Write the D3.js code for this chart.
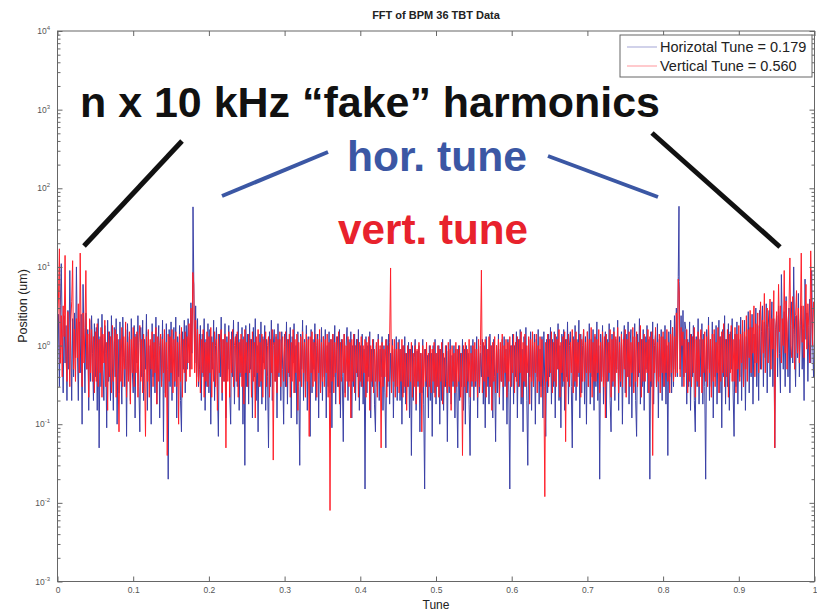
<!DOCTYPE html>
<html>
<head>
<meta charset="utf-8">
<script src="https://cdn.jsdelivr.net/npm/d3@7"></script>
<style>
  body { margin: 0; background: #fff; }
  text { font-family: "Liberation Sans", Arial, Helvetica, sans-serif; }
</style>
</head>
<body>
<svg id="chart" width="817" height="612"></svg>
<script>
// FFT bins: 801 bins spanning tune 0 to 1
const binStep = 0.00125;

// Horizontal plane FFT magnitude (um), one value per bin
const horSpectrum = [
  0.8, 2.5, 0.3, 3.2, 11, 1.4, 0.25, 2.4, 0.6, 1.8, 0.2, 2.8, 0.5, 9, 1.2, 0.2, 2.2, 0.4, 2.6, 0.7,
  10, 1.0, 0.2, 2.0, 0.45, 2.5, 0.1, 6, 1.2, 0.25, 2.6, 0.5, 1.6, 0.15, 2.1, 0.35, 2.4, 0.8, 0.2, 1.9,
  0.4, 1.7, 0.15, 2.2, 0.05, 1.3, 0.3, 2.5, 0.5, 0.2, 1.8, 0.8, 0.09, 2.1, 0.35, 1.5, 0.2, 2.4, 0.6, 0.15,
  1.7, 0.4, 2.2, 0.1, 1.2, 0.25, 2.0, 0.5, 0.18, 2.3, 0.7, 0.3, 1.6, 0.07, 1.9, 0.4, 1.3, 0.2, 2.2, 0.5,
  0.25, 1.8, 0.12, 1.4, 0.6, 2.4, 0.3, 0.08, 1.7, 0.4, 2.1, 0.2, 1.2, 0.5, 2.5, 0.15, 1.5, 0.35, 1.0, 0.1,
  1.9, 0.4, 1.4, 0.25, 2.3, 0.18, 0.9, 1.8, 0.12, 1.3, 0.35, 2.1, 0.06, 1.4, 0.25, 1.9, 0.5, 0.02, 1.6, 0.3,
  2.0, 0.2, 1.0, 1.7, 0.3, 2.3, 0.12, 1.3, 0.4, 1.8, 0.2, 0.08, 1.5, 0.5, 2.1, 0.25, 1.8, 0.5, 2.2, 1.3,
  0.5, 3.5, 0.8, 8, 7, 0.6, 3.2, 0.4, 2.2, 0.3, 0.5, 1.8, 0.2, 1.4, 0.4, 2.2, 0.15, 1.2, 0.3, 1.9,
  0.25, 1.6, 0.1, 1.3, 0.5, 2.1, 0.2, 1.0, 1.7, 0.3, 0.07, 1.4, 0.4, 2.3, 0.2, 1.2, 0.35, 1.9, 0.12, 1.3,
  0.5, 1.8, 0.25, 0.1, 1.5, 0.4, 2.1, 0.18, 1.0, 1.4, 0.3, 2.0, 0.15, 1.2, 0.4, 1.7, 0.1, 1.3, 0.03, 1.8,
  0.3, 1.4, 0.18, 1.9, 0.5, 1.2, 0.12, 1.7, 0.4, 2.2, 0.2, 1.0, 0.08, 1.4, 0.3, 2.0, 0.18, 1.3, 0.6, 1.8,
  0.15, 1.2, 0.4, 0.05, 1.5, 0.3, 2.1, 0.2, 1.0, 1.6, 0.35, 1.3, 0.12, 1.9, 0.4, 1.2, 0.2, 1.5, 0.5, 0.1,
  1.4, 0.3, 2.0, 0.18, 1.2, 0.4, 1.7, 0.12, 1.3, 0.6, 1.9, 0.25, 1.0, 0.1, 1.5, 0.3, 0.03, 1.4, 0.5, 2.1,
  0.2, 1.2, 0.35, 1.8, 0.15, 1.3, 0.4, 0.07, 1.6, 0.25, 1.2, 0.5, 1.9, 0.2, 1.0, 1.4, 0.12, 1.2, 0.3, 1.7,
  0.2, 1.3, 0.4, 1.6, 0.12, 1.0, 0.3, 1.5, 0.25, 1.2, 0.09, 1.4, 0.4, 1.8, 0.18, 0.9, 1.3, 0.3, 1.6, 0.12,
  1.2, 0.4, 0.06, 1.4, 0.25, 1.0, 1.7, 0.2, 1.2, 0.35, 1.5, 0.12, 1.0, 0.3, 1.4, 0.2, 1.2, 0.4, 1.6, 0.15,
  1.0, 0.3, 1.4, 0.18, 0.9, 0.015, 1.3, 0.25, 1.0, 0.4, 1.5, 0.12, 0.9, 0.3, 1.2, 0.18, 0.08, 1.0, 0.3, 1.4,
  0.2, 0.9, 0.4, 1.3, 0.15, 1.0, 0.25, 0.05, 1.2, 0.3, 1.4, 0.18, 0.8, 0.35, 1.2, 0.12, 0.9, 0.3, 1.3, 0.2,
  0.8, 1.2, 0.2, 0.9, 0.1, 1.0, 0.25, 1.3, 0.18, 0.8, 0.3, 1.1, 0.12, 0.9, 0.04, 1.0, 0.2, 0.7, 1.2, 0.15,
  0.85, 0.3, 1.0, 0.08, 0.8, 0.25, 1.2, 0.18, 0.015, 0.9, 0.3, 0.75, 0.12, 1.0, 0.2, 0.8, 0.07, 1.0, 0.25, 1.2,
  0.18, 0.8, 0.3, 1.0, 0.1, 0.9, 0.2, 1.2, 0.15, 0.7, 0.3, 1.0, 0.06, 0.85, 0.25, 1.2, 0.18, 0.75, 0.3, 1.0,
  0.12, 0.9, 0.25, 0.05, 1.0, 0.2, 0.8, 0.3, 1.2, 0.15, 0.9, 0.1, 1.0, 0.25, 0.8, 0.18, 0.04, 1.0, 0.3, 1.2,
  0.2, 0.9, 0.3, 1.3, 0.12, 1.0, 0.25, 0.8, 0.4, 1.2, 0.18, 1.0, 0.09, 1.3, 0.3, 0.9, 0.18, 1.4, 0.3, 1.0,
  0.12, 1.2, 0.4, 0.06, 1.0, 0.25, 1.4, 0.18, 0.9, 0.35, 1.2, 0.15, 1.3, 0.3, 0.9, 0.1, 1.2, 0.25, 0.015, 1.0,
  0.3, 1.4, 0.18, 1.0, 0.4, 1.5, 0.12, 1.2, 0.3, 1.6, 0.18, 0.9, 0.08, 1.3, 0.3, 1.7, 0.2, 0.03, 1.2, 0.4,
  1.5, 0.15, 1.0, 0.3, 1.4, 0.1, 1.2, 0.4, 1.6, 0.18, 0.9, 0.3, 1.3, 0.12, 1.5, 0.3, 0.07, 1.2, 0.25, 1.4,
  0.4, 1.7, 0.18, 1.2, 0.3, 1.5, 0.12, 1.3, 0.5, 1.9, 0.2, 1.0, 0.09, 1.4, 0.3, 1.6, 0.15, 1.2, 0.4, 2.0,
  0.18, 1.0, 1.5, 0.3, 0.05, 1.3, 0.3, 1.8, 0.2, 1.2, 0.4, 2.1, 0.12, 1.4, 0.25, 1.0, 1.6, 0.18, 1.3, 0.1,
  1.5, 0.3, 1.9, 0.18, 1.2, 0.4, 1.6, 0.15, 1.3, 0.3, 2.0, 0.2, 1.0, 0.02, 1.4, 0.4, 1.8, 0.18, 0.9, 1.5,
  0.12, 1.2, 0.35, 1.9, 0.2, 0.08, 1.4, 0.3, 1.7, 0.2, 1.2, 0.5, 2.1, 0.15, 1.3, 0.3, 1.5, 0.1, 1.0, 1.8,
  0.25, 1.4, 0.4, 2.0, 0.18, 1.0, 1.6, 0.12, 1.3, 0.3, 1.9, 0.2, 0.07, 1.4, 0.4, 2.2, 0.18, 1.2, 0.3, 1.6,
  0.15, 1.3, 0.5, 1.8, 0.25, 1.2, 0.02, 1.5, 0.3, 2.0, 0.18, 1.0, 1.4, 0.3, 1.9, 0.12, 1.2, 0.4, 1.6, 0.2,
  1.3, 0.3, 1.8, 0.18, 1.0, 0.04, 1.5, 0.4, 2.1, 0.25, 1.7, 0.3, 2.4, 0.5, 3.0, 0.4, 7.5, 6.5, 0.5, 2.4,
  0.3, 2.8, 0.4, 2.0, 1.6, 0.18, 1.2, 0.3, 2.0, 0.15, 1.4, 0.4, 1.8, 0.2, 0.08, 1.3, 0.3, 2.2, 0.18, 1.2,
  0.4, 1.9, 0.18, 1.4, 0.3, 0.02, 1.6, 0.5, 2.3, 0.2, 1.2, 0.3, 2.0, 0.12, 1.4, 0.4, 1.8, 0.18, 1.0, 2.1,
  0.25, 1.3, 0.09, 1.6, 0.4, 2.4, 0.18, 1.2, 0.3, 1.9, 0.15, 1.5, 0.5, 2.2, 0.25, 0.07, 1.4, 0.3, 2.0, 0.18,
  1.2, 0.4, 2.3, 0.2, 1.5, 0.3, 2.1, 0.15, 1.3, 0.5, 2.7, 0.25, 1.7, 0.4, 2.5, 0.18, 1.4, 0.6, 3.0, 0.3,
  1.8, 0.2, 2.8, 0.5, 1.5, 3.2, 0.3, 2.0, 0.7, 3.4, 0.25, 1.7, 2.8, 0.4, 1.4, 3.6, 0.3, 2.2, 0.05, 1.6,
  2.4, 0.4, 3.2, 0.8, 0.25, 8, 1.7, 0.5, 2.7, 0.3, 4.2, 1.3, 0.4, 3.0, 0.25, 1.8, 3.6, 0.6, 10, 1.4,
  0.3, 2.4, 0.7, 4.6, 0.4, 2.0, 3.2, 0.5, 1.6, 0.2, 7, 1.2, 2.6, 0.35, 1.8, 3.9, 0.6, 9, 1.3, 0.4,
  1.2
];

// Vertical plane FFT magnitude (um), one value per bin
const verSpectrum = [
  1.6, 4, 17, 0.6, 2.4, 0.4, 3.2, 1.3, 14, 0.7, 0.35, 2.7, 1.1, 0.3, 2.0, 3.6, 12, 0.5, 1.6, 0.35,
  2.2, 0.7, 3.4, 0.45, 15, 1.2, 0.3, 2.6, 0.6, 1.7, 9, 0.5, 1.4, 0.22, 2.2, 0.45, 1.6, 0.35, 1.3, 0.25,
  1.5, 0.35, 1.9, 0.3, 1.2, 0.45, 1.7, 0.22, 1.4, 0.6, 2.1, 0.3, 1.1, 0.15, 1.5, 0.4, 1.3, 0.25, 1.8, 0.35,
  1.1, 1.6, 0.22, 1.4, 0.45, 0.08, 1.2, 0.35, 1.7, 0.3, 1.3, 0.5, 2.0, 0.22, 1.1, 0.35, 1.5, 0.18, 1.2, 0.45,
  1.7, 0.3, 1.3, 0.45, 1.5, 0.22, 1.1, 1.8, 0.35, 1.2, 0.25, 1.4, 0.45, 0.07, 1.3, 0.35, 1.6, 0.22, 1.2, 0.5,
  1.5, 0.3, 1.1, 0.45, 1.7, 0.18, 1.3, 0.35, 1.0, 1.4, 0.3, 1.2, 0.45, 1.6, 0.22, 1.1, 0.04, 1.4, 0.35, 1.3,
  0.45, 1.6, 0.25, 1.2, 0.35, 1.5, 0.3, 1.1, 0.1, 1.4, 0.35, 1.7, 0.22, 1.2, 0.45, 1.5, 0.35, 1.3, 0.6, 1.9,
  0.4, 3.0, 0.5, 8.5, 6, 0.45, 2.1, 0.3, 1.6, 0.35, 1.4, 0.25, 1.2, 0.45, 1.6, 0.22, 1.1, 0.35, 1.5, 0.3,
  1.3, 0.45, 1.7, 0.22, 1.1, 0.35, 1.5, 0.3, 1.2, 0.15, 1.4, 0.45, 1.1, 1.6, 0.25, 1.2, 0.35, 1.4, 0.05, 1.1,
  0.35, 1.5, 0.22, 1.2, 0.45, 1.6, 0.3, 1.0, 1.3, 0.35, 1.5, 0.22, 1.1, 0.45, 1.4, 0.3, 1.2, 0.18, 1.6, 0.45,
  1.1, 0.3, 1.4, 0.45, 1.2, 0.22, 1.5, 0.35, 1.1, 0.12, 1.3, 0.45, 1.6, 0.3, 1.1, 0.35, 1.4, 0.22, 1.2, 0.5,
  1.5, 0.3, 1.0, 1.3, 0.22, 1.2, 0.45, 1.6, 0.035, 1.1, 0.35, 1.4, 0.25, 1.2, 0.45, 1.5, 0.3, 1.1, 1.3, 0.35,
  1.0, 1.5, 0.3, 1.2, 0.45, 1.4, 0.22, 1.1, 0.35, 1.6, 0.25, 1.2, 0.45, 1.4, 0.15, 1.1, 0.35, 1.3, 0.3, 1.5,
  0.45, 1.1, 0.22, 1.4, 0.35, 1.2, 0.07, 1.3, 0.45, 1.5, 0.3, 1.1, 0.35, 1.4, 0.22, 1.2, 0.45, 1.6, 0.25, 1.1,
  0.35, 1.3, 0.3, 1.2, 0.45, 1.4, 0.22, 1.1, 0.008, 1.2, 0.35, 1.4, 0.25, 1.1, 0.45, 1.3, 0.3, 1.5, 0.18, 1.1,
  0.35, 1.2, 0.45, 1.4, 0.22, 1.0, 0.35, 1.3, 0.3, 1.1, 0.12, 1.2, 0.35, 1.4, 0.25, 1.0, 0.45, 1.2, 0.22, 1.1,
  0.35, 1.3, 0.3, 1.0, 0.45, 1.2, 0.22, 1.1, 0.35, 1.3, 0.15, 1.0, 0.35, 1.2, 0.25, 0.9, 0.35, 1.1, 0.22, 1.2,
  0.35, 1.0, 0.05, 1.1, 0.3, 0.9, 0.4, 1.2, 0.22, 1.0, 0.35, 1.1, 0.45, 0.25, 1.0, 0.35, 1.2, 0.22, 0.9, 0.3,
  1.1, 0.25, 0.9, 0.35, 1.2, 0.22, 1.0, 0.3, 0.8, 0.15, 1.0, 0.3, 0.9, 0.35, 1.1, 0.22, 0.8, 0.3, 1.0, 0.18,
  0.9, 0.35, 1.1, 0.25, 0.8, 0.08, 1.0, 0.3, 0.9, 0.35, 1.1, 0.22, 0.8, 0.3, 1.0, 0.25, 0.9, 0.35, 1.1, 0.22,
  0.8, 0.3, 1.0, 0.22, 0.9, 0.35, 1.1, 0.18, 0.8, 0.3, 1.0, 0.35, 0.25, 1.1, 0.3, 0.9, 0.15, 1.0, 0.35, 0.8,
  0.25, 1.1, 0.3, 0.9, 0.35, 1.0, 0.22, 0.8, 0.04, 1.0, 0.3, 1.1, 0.25, 0.9, 0.35, 1.2, 0.22, 0.8, 0.35, 1.0,
  0.3, 1.1, 0.35, 0.9, 0.22, 1.2, 0.3, 1.0, 0.45, 0.25, 1.1, 0.35, 1.2, 0.22, 0.9, 0.4, 1.3, 0.3, 1.0, 0.15,
  1.1, 0.35, 1.3, 0.25, 1.0, 0.45, 1.2, 0.22, 1.1, 0.35, 1.4, 0.3, 1.0, 0.45, 1.2, 0.22, 1.1, 0.35, 1.3, 0.3,
  1.0, 0.45, 1.4, 0.25, 1.1, 0.35, 1.3, 0.3, 1.2, 0.45, 1.5, 0.22, 1.1, 0.35, 1.4, 0.3, 1.0, 0.45, 1.3, 0.18,
  1.2, 0.35, 1.5, 0.3, 1.1, 0.45, 1.4, 0.25, 1.0, 0.35, 1.3, 0.22, 1.2, 0.45, 0.3, 0.012, 1.1, 0.35, 1.4, 0.3,
  1.2, 0.45, 1.5, 0.25, 1.1, 0.35, 1.4, 0.3, 1.2, 0.5, 1.6, 0.22, 1.1, 0.45, 1.3, 0.35, 1.5, 0.06, 1.2, 0.35,
  1.4, 0.3, 1.1, 0.45, 1.6, 0.25, 1.2, 0.35, 1.5, 0.3, 1.1, 0.45, 1.4, 0.22, 1.2, 0.35, 1.6, 0.35, 1.1, 0.45,
  1.5, 0.3, 1.2, 0.45, 1.7, 0.22, 1.1, 0.35, 1.4, 0.35, 1.2, 0.45, 1.6, 0.25, 1.1, 0.35, 1.5, 0.3, 1.3, 0.12,
  1.4, 0.35, 1.1, 0.45, 1.6, 0.22, 1.2, 0.35, 1.5, 0.3, 1.3, 0.45, 1.7, 0.25, 1.1, 0.35, 1.4, 0.3, 1.2, 0.5,
  1.6, 0.22, 1.2, 0.4, 1.5, 0.3, 1.1, 0.45, 1.7, 0.25, 1.3, 0.35, 1.5, 0.3, 1.1, 0.45, 1.8, 0.22, 1.2, 0.35,
  1.4, 0.35, 1.1, 0.45, 1.6, 0.25, 1.3, 0.35, 1.5, 0.04, 1.2, 0.45, 1.7, 0.3, 1.1, 0.35, 1.4, 0.25, 1.3, 0.45,
  1.5, 0.3, 1.2, 0.45, 1.6, 0.35, 1.1, 0.25, 1.4, 0.45, 1.7, 0.35, 1.3, 0.4, 2.6, 0.45, 7, 5, 0.4, 1.7,
  1.0, 1.5, 0.3, 1.2, 0.45, 1.6, 0.25, 1.1, 0.35, 1.4, 0.3, 1.3, 0.45, 1.7, 0.22, 1.2, 0.35, 1.5, 0.3, 1.1,
  1.6, 0.25, 1.2, 0.45, 1.5, 0.35, 1.3, 0.3, 1.8, 0.45, 1.2, 0.22, 1.4, 0.35, 1.6, 0.3, 1.1, 0.45, 1.7, 0.25,
  1.3, 0.35, 1.5, 0.45, 1.9, 0.3, 1.2, 0.4, 1.6, 0.22, 1.4, 0.45, 1.8, 0.35, 1.2, 0.35, 1.7, 0.25, 1.4, 0.5,
  1.8, 0.35, 1.4, 0.6, 2.1, 0.3, 1.5, 0.5, 2.4, 0.35, 1.6, 0.7, 2.8, 0.45, 1.7, 0.8, 3.2, 0.4, 1.9, 0.6,
  2.6, 0.45, 1.7, 3.6, 0.5, 2.1, 0.8, 4.6, 0.45, 1.8, 3.0, 0.6, 1.6, 3.9, 0.5, 2.2, 0.9, 5, 0.05, 1.7,
  2.7, 0.7, 6, 1.5, 3.2, 0.6, 2.2, 1.0, 9, 0.8, 3.7, 0.5, 2.0, 2.8, 13, 1.0, 0.7, 4.2, 1.6, 0.5,
  2.4, 5, 0.8, 3.0, 0.6, 1.8, 15, 1.1, 3.2, 0.7, 2.2, 6, 0.9, 3.4, 1.7, 0.6, 16, 2.6, 1.0, 3.6,
  2.0
];

// Betatron tune lines [tune, amplitude um] and their mirror images
const horTuneLines = [[0.179, 58], [0.821, 59]];
const verTuneLines = [[0.440, 9.7], [0.560, 9.1]];

const xTicks = [0, 0.1, 0.2, 0.3, 0.4, 0.5, 0.6, 0.7, 0.8, 0.9, 1];
const xTickLabels = ["0", "0.1", "0.2", "0.3", "0.4", "0.5", "0.6", "0.7", "0.8", "0.9", "1"];
const yDecades = [1e-3, 1e-2, 1e-1, 1e0, 1e1, 1e2, 1e3, 1e4];
const yExponents = ["-3", "-2", "-1", "0", "1", "2", "3", "4"];
const legendLabels = ["Horizotal Tune = 0.179", "Vertical Tune = 0.560"];

const colors = { hor: "#3a40a6", ver: "#ff1f2a" };

const svg = d3.select("#chart");
const plotLeft = 57.5, plotRight = 814.5, plotTop = 31, plotBottom = 581.5;

const x = d3.scaleLinear().domain([0, 1]).range([plotLeft, plotRight]);
const y = d3.scaleLog().domain([1e-3, 1e4]).range([plotBottom, plotTop]);

// Spectrum bins plus the tune lines, ordered by tune
function buildSeries(values, lines) {
  const pts = values
    .map((v, i) => [i * binStep, v])
    .filter(([t]) => t <= 1 && !lines.some(([lt]) => Math.abs(lt - t) < 1e-9));
  return pts.concat(lines).sort((a, b) => a[0] - b[0]);
}

svg.append("rect").attr("width", 817).attr("height", 612).attr("fill", "#fff");

svg.append("defs").append("clipPath").attr("id", "plotClip")
  .append("rect").attr("x", plotLeft).attr("y", plotTop)
  .attr("width", plotRight - plotLeft).attr("height", plotBottom - plotTop);

const line = d3.line().x(d => x(d[0])).y(d => y(d[1]));
const plot = svg.append("g").attr("clip-path", "url(#plotClip)");

plot.append("path").datum(buildSeries(horSpectrum, horTuneLines))
  .attr("d", line).attr("fill", "none")
  .attr("stroke", colors.hor).attr("stroke-width", 1);
plot.append("path").datum(buildSeries(verSpectrum, verTuneLines))
  .attr("d", line).attr("fill", "none")
  .attr("stroke", colors.ver).attr("stroke-width", 1);

// Axes (ticks point inward, box drawn separately)
const axisColor = "#666";
const minorTicks = [];
yDecades.slice(0, -1).forEach(d => { for (let k = 2; k <= 9; k++) minorTicks.push(d * k); });

function styleAxis(g) {
  g.select(".domain").remove();
  g.selectAll(".tick line").attr("stroke", axisColor);
  g.selectAll(".tick text").attr("fill", "#555").attr("font-size", 8.5)
    .attr("font-family", "'Liberation Sans', Arial, sans-serif");
}

svg.append("g").attr("transform", `translate(0,${plotBottom})`)
  .call(d3.axisBottom(x).tickValues(xTicks).tickSize(-5).tickPadding(5)
    .tickFormat((d, i) => xTickLabels[i]))
  .call(styleAxis);
svg.append("g").attr("transform", `translate(0,${plotTop})`)
  .call(d3.axisTop(x).tickValues(xTicks).tickSize(-5).tickFormat(""))
  .call(styleAxis);

svg.append("g").attr("transform", `translate(${plotLeft},0)`)
  .call(d3.axisLeft(y).tickValues(yDecades).tickSize(-5).tickFormat(""))
  .call(styleAxis);
svg.append("g").attr("transform", `translate(${plotLeft},0)`)
  .call(d3.axisLeft(y).tickValues(minorTicks).tickSize(-3).tickFormat(""))
  .call(styleAxis);
svg.append("g").attr("transform", `translate(${plotRight},0)`)
  .call(d3.axisRight(y).tickValues(yDecades).tickSize(-5).tickFormat(""))
  .call(styleAxis);
svg.append("g").attr("transform", `translate(${plotRight},0)`)
  .call(d3.axisRight(y).tickValues(minorTicks).tickSize(-3).tickFormat(""))
  .call(styleAxis);

// Decade labels as 10 with superscript exponent
const yLab = svg.append("g").attr("fill", "#555").attr("font-size", 8.5);
yDecades.forEach((d, i) => {
  const t = yLab.append("text").attr("x", 50).attr("y", y(d) + 3).attr("text-anchor", "end");
  t.append("tspan").text("10");
  t.append("tspan").attr("dy", -4).attr("font-size", 6).text(yExponents[i]);
});

svg.append("rect").attr("x", plotLeft).attr("y", plotTop)
  .attr("width", plotRight - plotLeft).attr("height", plotBottom - plotTop)
  .attr("fill", "none").attr("stroke", axisColor).attr("stroke-width", 1);

// Titles
svg.append("text").attr("x", 436).attr("y", 19).attr("text-anchor", "middle")
  .attr("font-size", 11).attr("font-weight", "bold").attr("fill", "#222")
  .text("FFT of BPM 36 TBT Data");
svg.append("text").attr("x", 436).attr("y", 609).attr("text-anchor", "middle")
  .attr("font-size", 12).attr("fill", "#222").text("Tune");
svg.append("text").attr("transform", "translate(27,306) rotate(-90)")
  .attr("text-anchor", "middle").attr("font-size", 12.5).attr("fill", "#222")
  .text("Position (um)");

// Legend
const lg = svg.append("g");
lg.append("rect").attr("x", 620).attr("y", 35).attr("width", 192).attr("height", 42)
  .attr("fill", "#fff").attr("stroke", axisColor);
[colors.hor, colors.ver].forEach((c, i) => {
  const ly = 47 + i * 19;
  lg.append("line").attr("x1", 627).attr("x2", 657).attr("y1", ly).attr("y2", ly)
    .attr("stroke", c).attr("stroke-width", 0.8).attr("stroke-opacity", 0.6);
  lg.append("text").attr("x", 660).attr("y", ly + 5).attr("font-size", 14.5)
    .attr("fill", "#222").text(legendLabels[i]);
});

// Annotations
const ann = svg.append("g");
ann.append("line").attr("x1", 84).attr("y1", 246).attr("x2", 182).attr("y2", 141)
  .attr("stroke", "#111").attr("stroke-width", 5);
ann.append("line").attr("x1", 652).attr("y1", 133).attr("x2", 780).attr("y2", 247)
  .attr("stroke", "#111").attr("stroke-width", 5);
ann.append("line").attr("x1", 222).attr("y1", 196).attr("x2", 328).attr("y2", 152)
  .attr("stroke", "#3b57a4").attr("stroke-width", 4);
ann.append("line").attr("x1", 548).attr("y1", 156).attr("x2", 658).attr("y2", 197)
  .attr("stroke", "#3b57a4").attr("stroke-width", 4);

ann.append("text").attr("x", 80).attr("y", 117).attr("font-size", 43).attr("font-weight", "bold")
  .attr("fill", "#111").attr("textLength", 580).attr("lengthAdjust", "spacingAndGlyphs")
  .text("n x 10 kHz \u201cfake\u201d harmonics");
ann.append("text").attr("x", 347).attr("y", 171).attr("font-size", 42).attr("font-weight", "bold")
  .attr("fill", "#3b57a4").attr("textLength", 180).attr("lengthAdjust", "spacingAndGlyphs")
  .text("hor. tune");
ann.append("text").attr("x", 338).attr("y", 244).attr("font-size", 42).attr("font-weight", "bold")
  .attr("fill", "#e8222c").attr("textLength", 190).attr("lengthAdjust", "spacingAndGlyphs")
  .text("vert. tune");
</script>
</body>
</html>
